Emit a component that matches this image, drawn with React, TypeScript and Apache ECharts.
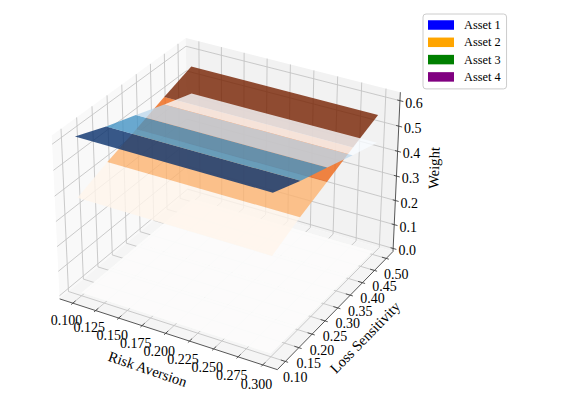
import React, { useEffect, useRef } from "react";
import * as echarts from "echarts";

const riskEdges = [0.1, 0.3];
const lossGrid = [0.1, 0.2, 0.3, 0.4, 0.5];
const asset1Weights = [0.618, 0.569, 0.528, 0.485, 0.445];
const asset2Weights = [0.382, 0.431, 0.472, 0.515, 0.555];
const asset3Weights = [0, 0, 0, 0, 0];
const asset4Weights = [0, 0, 0, 0, 0];

const assetNames = ["Asset 1", "Asset 2", "Asset 3", "Asset 4"];
const legendColors = ["#0000ff", "#ffa500", "#008000", "#800080"];
const bandColors = [
  ["#08306b", "#4593c4", "#bed8ec", "#f7fbff"],
  ["#fff5eb", "#fdb36f", "#ee6514", "#752000"],
  ["#f7fcf5", "#f7fcf5", "#f7fcf5", "#f7fcf5"],
  ["#fcfbfd", "#fcfbfd", "#fcfbfd", "#fcfbfd"],
];
const surfaceOrder = [2, 3, 1, 0];
const surfaceWeights = [asset1Weights, asset2Weights, asset3Weights, asset4Weights];

const xTicks = ["0.100", "0.125", "0.150", "0.175", "0.200", "0.225", "0.250", "0.275", "0.300"];
const yTicks = ["0.10", "0.15", "0.20", "0.25", "0.30", "0.35", "0.40", "0.45", "0.50"];
const zTicks = ["0.0", "0.1", "0.2", "0.3", "0.4", "0.5", "0.6"];

const xLim = [0.0854, 0.3146];
const yLim = [0.0708, 0.5292];
const zLim = [-0.0129, 0.6329];

const BOX = [1.1905, 1.1905, 0.8929];
const U = [0.866, 0.5, 0];
const V = [-0.25, 0.433, 0.866];
const W = [0.433, -0.75, 0.5];
const dot = (a: number[], b: number[]) => a[0] * b[0] + a[1] * b[1] + a[2] * b[2];

function project(x: number, y: number, z: number): number[] {
  const d = [
    ((x - xLim[0]) / (xLim[1] - xLim[0]) - 0.5) * BOX[0],
    ((y - yLim[0]) / (yLim[1] - yLim[0]) - 0.5) * BOX[1],
    ((z - zLim[0]) / (zLim[1] - zLim[0]) - 0.5) * BOX[2],
  ];
  const den = 10 - dot(W, d);
  return [dot(U, d) / den, dot(V, d) / den];
}

const FONT = "'Liberation Serif', 'Times New Roman', serif";

function renderScene(_p: any, api: any) {
  const pt = (x: number, y: number, z: number) => api.coord(project(x, y, z));
  const [x0, x1] = xLim;
  const [y0, y1] = yLim;
  const [z0, z1] = zLim;
  const children: any[] = [];
  const pane = (pts: number[][], fill: string) =>
    children.push({ type: "polygon", silent: true, shape: { points: pts }, style: { fill } });
  const line = (pts: number[][], stroke: string, lineWidth: number) =>
    children.push({ type: "polyline", silent: true, shape: { points: pts }, style: { stroke, lineWidth, fill: "none" } });
  const label = (text: string, p: number[], size: number, rotation = 0) =>
    children.push({
      type: "text",
      silent: true,
      x: p[0],
      y: p[1],
      rotation,
      style: { text, fontFamily: FONT, fontSize: size, fill: "#000", align: "center", verticalAlign: "middle" },
    });

  pane([pt(x0, y0, z0), pt(x0, y1, z0), pt(x0, y1, z1), pt(x0, y0, z1)], "#f9f9f9");
  pane([pt(x0, y1, z0), pt(x1, y1, z0), pt(x1, y1, z1), pt(x0, y1, z1)], "#f2f2f2");
  pane([pt(x0, y0, z0), pt(x1, y0, z0), pt(x1, y1, z0), pt(x0, y1, z0)], "#f5f5f5");

  const GRID = "#c4c4c4";
  const GW = 0.9;
  xTicks.forEach((t) => {
    const x = +t;
    line([pt(x, y0, z0), pt(x, y1, z0), pt(x, y1, z1)], GRID, GW);
  });
  yTicks.forEach((t) => {
    const y = +t;
    line([pt(x1, y, z0), pt(x0, y, z0), pt(x0, y, z1)], GRID, GW);
  });
  zTicks.forEach((t) => {
    const z = +t;
    line([pt(x0, y0, z), pt(x0, y1, z), pt(x1, y1, z)], GRID, GW);
  });

  const AX = "#444";
  line([pt(x0, y0, z0), pt(x1, y0, z0)], AX, 0.9);
  line([pt(x1, y0, z0), pt(x1, y1, z0)], AX, 0.9);
  line([pt(x1, y1, z0), pt(x1, y1, z1)], AX, 0.9);

  const dy = y1 - y0;
  const dx = x1 - x0;
  xTicks.forEach((t, i) => {
    const x = +t;
    line([pt(x, y0 - 0.012 * dy, z0), pt(x, y0 + 0.02 * dy, z0)], AX, 0.9);
    const b = pt(x, y0, z0);
    label(t, [b[0] - 6.4, b[1] + 17 + (2.3 * i) / (xTicks.length - 1)], 14);
  });
  yTicks.forEach((t) => {
    const y = +t;
    line([pt(x1 + 0.012 * dx, y, z0), pt(x1 - 0.02 * dx, y, z0)], AX, 0.9);
    const b = pt(x1, y, z0);
    label(t, [b[0] + 10, b[1] + 16], 14);
  });
  zTicks.forEach((t) => {
    const z = +t;
    line([pt(x1 + 0.015 * dx, y1, z), pt(x1 - 0.012 * dx, y1, z)], AX, 0.9);
    const b = pt(x1, y1, z);
    label(t, [b[0] + 14, b[1] + 2.5], 14);
  });

  label("Risk Aversion", [147.7, 369], 14.6, -0.33);
  label("Loss Sensitivity", [365, 337.3], 14.6, 0.8);
  label("Weight", [434, 168], 14.6, 1.54);

  return { type: "group", children };
}

function renderBand(asset: number) {
  return (_p: any, api: any) => {
    const xa = api.value(0);
    const xb = api.value(1);
    const ya = api.value(2);
    const yb = api.value(3);
    const za = api.value(4);
    const zb = api.value(5);
    const band = api.value(6);
    return {
      type: "polygon",
      silent: true,
      shape: {
        points: [
          api.coord(project(xa, ya, za)),
          api.coord(project(xb, ya, za)),
          api.coord(project(xb, yb, zb)),
          api.coord(project(xa, yb, zb)),
        ],
      },
      style: { fill: bandColors[asset][band], opacity: 0.8 },
    };
  };
}

function bandRows(weights: number[]) {
  return weights.slice(0, -1).map((w, i) => [
    riskEdges[0], riskEdges[1], lossGrid[i], lossGrid[i + 1], w, weights[i + 1], i,
  ]);
}

export default function App() {
  const ref = useRef<HTMLDivElement>(null);
  useEffect(() => {
    document.body.style.margin = "0";
    const chart = echarts.init(ref.current!, undefined, { renderer: "svg" });
    chart.setOption({
      animation: false,
      backgroundColor: "#fff",
      grid: { left: 0, right: 0, top: 0, bottom: 0 },
      xAxis: { type: "value", min: -229.4 / 2095, max: (578 - 229.4) / 2095, show: false },
      yAxis: { type: "value", min: (195.9 - 399) / 2085, max: 195.9 / 2085, show: false },
      legend: {
        orient: "vertical",
        left: 423,
        top: 14,
        padding: [5, 6, 6, 5],
        itemWidth: 26,
        itemHeight: 9.5,
        itemGap: 5.3,
        selectedMode: false,
        borderColor: "#ccc",
        borderWidth: 1,
        borderRadius: 3,
        backgroundColor: "#fff",
        textStyle: { fontFamily: FONT, fontSize: 12.3, color: "#000", padding: [0, 0, 0, 5] },
        data: assetNames.map((name, i) => ({ name, icon: "rect", itemStyle: { color: legendColors[i], opacity: 1 } })),
      },
      series: [
        { type: "custom", name: "axes", silent: true, clip: false, renderItem: renderScene, data: [[0, 0]] },
        ...surfaceOrder.map((asset) => ({
          type: "custom",
          name: assetNames[asset],
          silent: true,
          clip: false,
          itemStyle: { color: legendColors[asset] },
          renderItem: renderBand(asset),
          data: bandRows(surfaceWeights[asset]),
        })),
      ],
    });
    return () => chart.dispose();
  }, []);
  return <div ref={ref} style={{ width: 578, height: 399 }} />;
}
